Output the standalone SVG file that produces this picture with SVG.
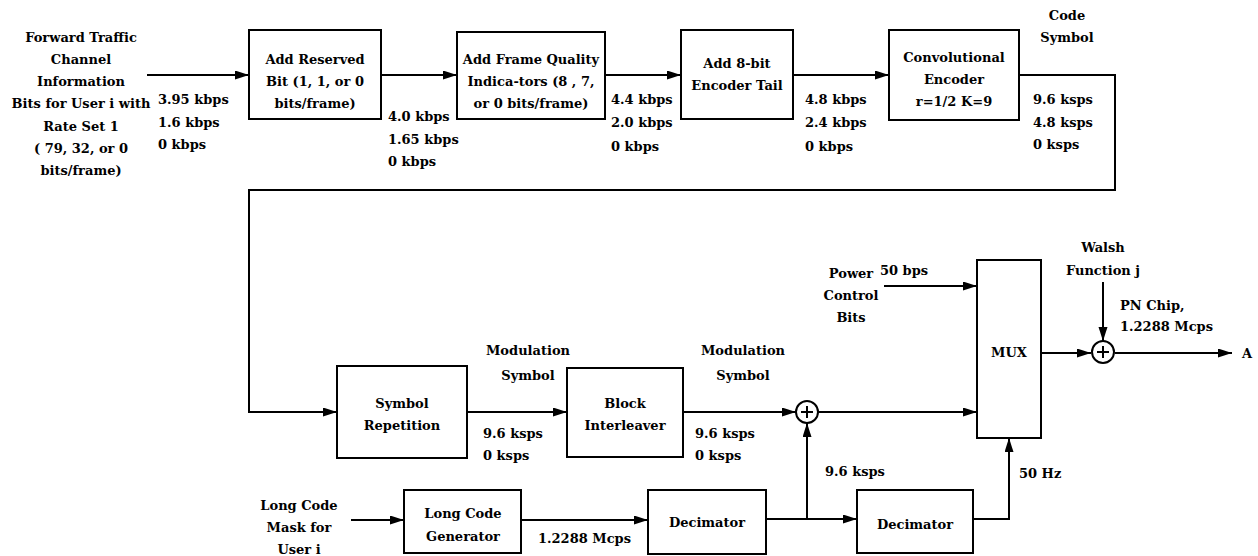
<svg xmlns="http://www.w3.org/2000/svg" width="1258" height="556" viewBox="0 0 1258 556">
<defs>
<marker id="ah" markerUnits="userSpaceOnUse" markerWidth="15" markerHeight="10" refX="14" refY="4.5" orient="auto">
<path d="M0,0 L14,4.5 L0,9 z" fill="#000"/>
</marker>
<style>
text{font-family:"DejaVu Serif","Liberation Serif",serif;font-weight:bold;font-size:13px;fill:#000}
.c{text-anchor:middle}
.box{fill:#fff;stroke:#000;stroke-width:2}
.ln{fill:none;stroke:#000;stroke-width:2}
.ar{fill:none;stroke:#000;stroke-width:2;marker-end:url(#ah)}
.sum{fill:#fff;stroke:#000;stroke-width:2}
</style>
</defs>
<rect width="1258" height="556" fill="#fff"/>

<g id="connectors">
<path class="ar" d="M147,75 H249"/>
<path class="ar" d="M381,75 H457"/>
<path class="ar" d="M605,75 H681"/>
<path class="ar" d="M793,75 H889"/>
<path class="ar" d="M1019,75 H1115 V190 H249 V412 H337"/>
<path class="ar" d="M467,412 H567"/>
<path class="ar" d="M683,412 H796"/>
<path class="ar" d="M818,412 H977"/>
<path class="ar" d="M884,286 H977"/>
<path class="ar" d="M351,520 H404"/>
<path class="ar" d="M521,520 H648"/>
<path class="ar" d="M766,519 H857"/>
<path class="ar" d="M807,519 V423"/>
<path class="ar" d="M973,519 H1009 V438"/>
<path class="ar" d="M1041,353 H1091"/>
<path class="ar" d="M1103,282 V341"/>
<path class="ar" d="M1115,353 H1232"/>
</g>

<g id="input">
<text class="c" x="81" y="42">Forward Traffic</text>
<text class="c" x="81" y="64">Channel</text>
<text class="c" x="81" y="86">Information</text>
<text class="c" x="81" y="108">Bits for User i with</text>
<text class="c" x="81" y="131">Rate Set 1</text>
<text class="c" x="81" y="153">( 79, 32, or 0</text>
<text class="c" x="81" y="175">bits/frame)</text>
</g>
<g id="rate1">
<text x="158" y="104">3.95 kbps</text>
<text x="158" y="127">1.6 kbps</text>
<text x="158" y="149">0 kbps</text>
</g>

<g id="addReserved">
<rect class="box" x="249" y="30" width="132" height="89"/>
<text class="c" x="315" y="64">Add  Reserved</text>
<text class="c" x="315" y="86">Bit (1, 1, or 0</text>
<text class="c" x="315" y="108">bits/frame)</text>
</g>
<g id="rate2">
<text x="388" y="121">4.0 kbps</text>
<text x="388" y="144">1.65 kbps</text>
<text x="388" y="166">0 kbps</text>
</g>

<g id="addFQI">
<rect class="box" x="457" y="32" width="148" height="87"/>
<text class="c" x="531" y="64">Add Frame Quality</text>
<text class="c" x="531" y="86">Indica-tors (8 , 7,</text>
<text class="c" x="531" y="108">or 0 bits/frame)</text>
</g>
<g id="rate3">
<text x="611" y="104">4.4 kbps</text>
<text x="611" y="127">2.0 kbps</text>
<text x="611" y="151">0 kbps</text>
</g>

<g id="addTail">
<rect class="box" x="681" y="30" width="112" height="89"/>
<text class="c" x="737" y="68">Add 8-bit</text>
<text class="c" x="737" y="90">Encoder Tail</text>
</g>
<g id="rate4">
<text x="805" y="104">4.8 kbps</text>
<text x="805" y="127">2.4 kbps</text>
<text x="805" y="151">0 kbps</text>
</g>

<g id="convEncoder">
<rect class="box" x="889" y="30" width="130" height="90"/>
<text class="c" x="954" y="62">Convolutional</text>
<text class="c" x="954" y="84">Encoder</text>
<text class="c" x="954" y="106">r=1/2  K=9</text>
</g>
<g id="codeSymbol">
<text class="c" x="1067" y="20">Code</text>
<text class="c" x="1067" y="42">Symbol</text>
<text x="1033" y="104">9.6 ksps</text>
<text x="1033" y="127">4.8 ksps</text>
<text x="1033" y="149">0 ksps</text>
</g>

<g id="symbolRepetition">
<rect class="box" x="337" y="366" width="130" height="92"/>
<text class="c" x="402" y="408">Symbol</text>
<text class="c" x="402" y="430">Repetition</text>
</g>
<g id="modSym1">
<text class="c" x="528" y="355">Modulation</text>
<text class="c" x="528" y="380">Symbol</text>
<text x="483" y="438">9.6 ksps</text>
<text x="483" y="460">0 ksps</text>
</g>

<g id="blockInterleaver">
<rect class="box" x="567" y="368" width="116" height="89"/>
<text class="c" x="625" y="408">Block</text>
<text class="c" x="625" y="430">Interleaver</text>
</g>
<g id="modSym2">
<text class="c" x="743" y="355">Modulation</text>
<text class="c" x="743" y="380">Symbol</text>
<text x="695" y="438">9.6 ksps</text>
<text x="695" y="460">0 ksps</text>
</g>

<g id="sum1">
<circle class="sum" cx="807" cy="412" r="11"/>
<path class="ln" d="M801,412 H813 M807,406 V418" stroke-width="1.5"/>
</g>

<g id="powerControl">
<text class="c" x="851" y="278">Power</text>
<text class="c" x="851" y="300">Control</text>
<text class="c" x="851" y="322">Bits</text>
<text x="880" y="275">50 bps</text>
</g>

<g id="mux">
<rect class="box" x="977" y="260" width="64" height="178"/>
<text class="c" x="1009" y="357">MUX</text>
</g>

<g id="walsh">
<text class="c" x="1103" y="252">Walsh</text>
<text class="c" x="1103" y="275">Function j</text>
<text x="1120" y="310">PN Chip,</text>
<text x="1120" y="331">1.2288 Mcps</text>
</g>

<g id="sum2">
<circle class="sum" cx="1103" cy="352" r="11"/>
<path class="ln" d="M1097,352 H1109 M1103,346 V358" stroke-width="1.5"/>
</g>

<g id="outputA">
<text x="1242" y="358">A</text>
</g>

<g id="longCodeMask">
<text class="c" x="299" y="510">Long Code</text>
<text class="c" x="299" y="532">Mask for</text>
<text class="c" x="299" y="554">User i</text>
</g>

<g id="longCodeGen">
<rect class="box" x="404" y="490" width="117" height="63"/>
<text class="c" x="463" y="518">Long Code</text>
<text class="c" x="463" y="541">Generator</text>
</g>
<g id="chipRate">
<text x="538" y="543">1.2288 Mcps</text>
</g>

<g id="decimator1">
<rect class="box" x="648" y="490" width="118" height="64"/>
<text class="c" x="707" y="527">Decimator</text>
</g>
<g id="rate96">
<text x="825" y="476">9.6 ksps</text>
</g>

<g id="decimator2">
<rect class="box" x="857" y="490" width="116" height="63"/>
<text class="c" x="915" y="529">Decimator</text>
</g>
<g id="rate50">
<text x="1019" y="478">50 Hz</text>
</g>
</svg>
